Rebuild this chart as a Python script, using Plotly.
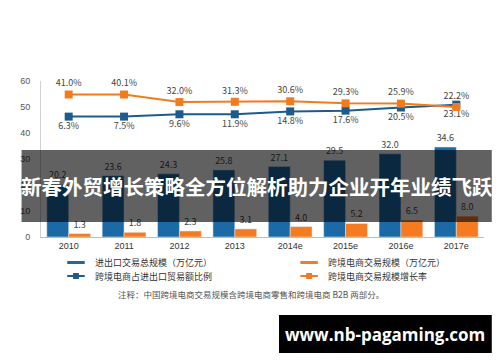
import plotly.graph_objects as go

years = ["2010", "2011", "2012", "2013", "2014e", "2015e", "2016e", "2017e"]
trade_total = [20.2, 23.6, 24.3, 25.8, 27.1, 29.5, 32.0, 34.6]
ecom_scale = [1.3, 1.8, 2.3, 3.1, 4.0, 5.2, 6.5, 8.0]
share_pos = [46.3, 46.3, 47.2, 47.2, 48.3, 48.6, 49.8, 50.9]
share_labels = ["6.3%", "7.5%", "9.6%", "11.9%", "14.8%", "17.6%", "20.5%", "23.1%"]
growth_pos = [54.8, 54.8, 51.9, 52.0, 52.2, 51.4, 51.3, 50.0]
growth_labels = ["41.0%", "40.1%", "32.0%", "31.3%", "30.6%", "29.3%", "25.9%", "22.2%"]

legend_names = ["进出口交易总规模（万亿元）", "跨境电商交易规模（万亿元）",
                "跨境电商占进出口贸易额比例", "跨境电商交易规模增长率"]
note_text = "注释：中国跨境电商交易规模含跨境电商零售和跨境电商 B2B 两部分。"
banner_text = "新春外贸增长策略全方位解析助力企业开年业绩飞跃"
watermark = "www.nb-pagaming.com"

OFF = 8  # page body margin
W, H = 500 - OFF, 362 - OFF
ML, MT = 28 - OFF, 81 - OFF
PW, PH = 456, 156
MR = W - ML - PW
MB = H - MT - PH

def px(x):
    return (x - OFF - ML) / PW

def py(y):
    return (MT + PH - (y - OFF)) / PH

BLUE_BAR = "#1b6aa6"
ORANGE_BAR = "#f47b20"
BLUE_LINE = "#1d5b8c"
ORANGE_LINE = "#f07c1e"
FONT = "Noto Sans CJK SC"

fig = go.Figure()
fig.add_trace(go.Bar(x=years, y=trade_total, name=legend_names[0], marker_color=BLUE_BAR,
                     text=[f"{v:.1f}" for v in trade_total], textposition="outside",
                     textfont=dict(size=9, color="#444", family=FONT), cliponaxis=False,
                     showlegend=False))
fig.add_trace(go.Bar(x=years, y=ecom_scale, name=legend_names[1], marker_color=ORANGE_BAR,
                     text=[f"{v:.1f}" for v in ecom_scale], textposition="outside",
                     textfont=dict(size=9, color="#444", family=FONT), cliponaxis=False,
                     showlegend=False))
fig.add_trace(go.Scatter(x=years, y=share_pos, name=legend_names[2], mode="lines+markers+text",
                         line=dict(color=BLUE_LINE, width=2),
                         marker=dict(symbol="square", size=8, color=BLUE_LINE),
                         text=share_labels, textposition="bottom center",
                         textfont=dict(size=9, color="#444", family=FONT),
                         cliponaxis=False, showlegend=False))
fig.add_trace(go.Scatter(x=years, y=growth_pos, name=legend_names[3], mode="lines+markers+text",
                         line=dict(color=ORANGE_LINE, width=2),
                         marker=dict(symbol="square", size=8, color=ORANGE_LINE),
                         text=growth_labels, textposition="top center",
                         textfont=dict(size=9, color="#444", family=FONT),
                         cliponaxis=False, showlegend=False))

shapes = []
annotations = []

# manual legend
leg = [
    (55, 262.5, BLUE_BAR, False, 82, legend_names[0]),
    (295, 262.5, ORANGE_BAR, False, 321, legend_names[1]),
    (55, 276, BLUE_LINE, True, 82, legend_names[2]),
    (295, 276, ORANGE_LINE, True, 321, legend_names[3]),
]
for x0, y0, col, mk, tx, name in leg:
    shapes.append(dict(type="line", xref="paper", yref="paper", x0=px(x0), x1=px(x0 + 18),
                       y0=py(y0), y1=py(y0), line=dict(color=col, width=3 if not mk else 2)))
    if mk:
        shapes.append(dict(type="rect", xref="paper", yref="paper", x0=px(x0 + 6), x1=px(x0 + 12),
                           y0=py(y0 - 3), y1=py(y0 + 3), fillcolor=col, line=dict(width=0)))
    annotations.append(dict(x=px(tx), y=py(y0), xref="paper", yref="paper", text=name,
                            showarrow=False, xanchor="left", yanchor="middle",
                            font=dict(size=9, color="#333", family=FONT)))

annotations.append(dict(x=px(244), y=py(293.5), xref="paper", yref="paper", text=note_text,
                        showarrow=False, xanchor="center", yanchor="middle",
                        font=dict(size=8.5, color="#555", family=FONT)))

# banner overlay
shapes.append(dict(type="rect", xref="paper", yref="paper", x0=px(8), x1=px(492),
                   y0=py(222), y1=py(150), fillcolor="rgba(0,0,0,0.62)", line=dict(width=0),
                   layer="above"))
annotations.append(dict(x=px(250), y=py(186), xref="paper", yref="paper", text="<b>" + banner_text + "</b>",
                        showarrow=False, xanchor="center", yanchor="middle",
                        font=dict(size=20.5, color="white", family=FONT)))

# watermark
shapes.append(dict(type="rect", xref="paper", yref="paper", x0=px(273), x1=px(492),
                   y0=py(353), y1=py(315), fillcolor="black", line=dict(width=0), layer="above"))
annotations.append(dict(x=px(382), y=py(334), xref="paper", yref="paper", text="<b>" + watermark + "</b>",
                        showarrow=False, xanchor="center", yanchor="middle",
                        font=dict(size=17, color="white", family="Open Sans")))

fig.update_layout(
    width=W, height=H,
    margin=dict(l=ML, r=MR, t=MT, b=MB, pad=0),
    paper_bgcolor="white", plot_bgcolor="white",
    barmode="group", bargap=0.21, bargroupgap=0,
    shapes=shapes, annotations=annotations,
    showlegend=False,
    font=dict(family=FONT),
    xaxis=dict(type="category", showgrid=False, showline=True, linecolor="#bdbdbd", linewidth=1,
               ticks="", tickfont=dict(size=9, color="#333", family="Liberation Sans"),
               range=[-0.5, 7.5]),
    yaxis=dict(range=[0, 60], dtick=10, showgrid=False, zeroline=False, showline=True,
               linecolor="#d0d0d0", linewidth=1, ticks="",
               tickfont=dict(size=9, color="#555", family="Liberation Sans"),
               ticklabelstandoff=8),
)

fig.write_html("out.html")
